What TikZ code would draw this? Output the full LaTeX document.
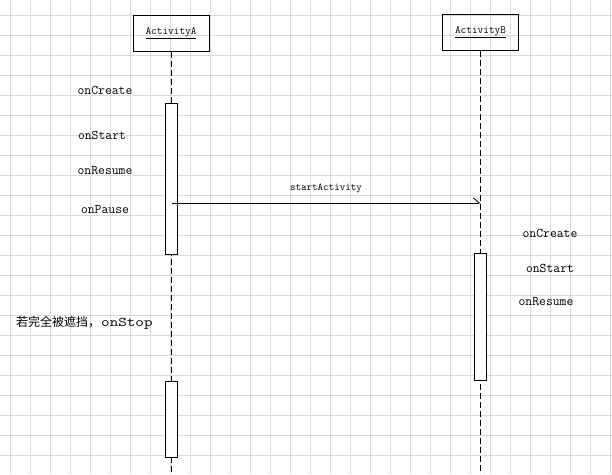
\documentclass[tikz,border=0pt]{standalone}
\usepackage{fontspec}
\usepackage{graphicx}
\newfontfamily\cjk{Noto Sans CJK SC}
\usetikzlibrary{arrows.meta}
\begin{document}
\begin{tikzpicture}[x=1pt,y=-1pt,
  gridline/.style={draw=black!15,line width=0.6pt},
  headbox/.style={draw,line width=1pt,minimum width=76pt,minimum height=36pt,inner sep=0pt,font=\ttfamily\fontsize{11}{12}\selectfont},
  lifeline/.style={dashed,dash pattern=on 6pt off 3pt,line width=0.8pt},
  actbox/.style={draw,fill=white,line width=0.9pt,minimum width=12pt,inner sep=0pt},
  lbl/.style={font=\ttfamily\fontsize{13.3}{14}\selectfont,inner sep=0pt},
  msg/.style={line width=0.8pt,-{Straight Barb[harpoon,length=6pt,width=10pt]}}]
\useasboundingbox (0,0) rectangle (612,474);
\fill[white] (0,0) rectangle (612,474);
% grid
\foreach \x in {10,30,...,610} \draw[gridline] (\x,0) -- (\x,474);
\foreach \y in {15,35,...,474} \draw[gridline] (0,\y) -- (612,\y);
% heads
\node[headbox] (A) at (171,33) {\underline{ActivityA}};
\node[headbox] (B) at (480.5,32.5) {\underline{ActivityB}};
% lifelines
\coordinate (Aend) at (171,474);
\coordinate (Bend) at (480.5,474);
\draw[lifeline] (A.south) -- (Aend);
\draw[lifeline] (B.south) -- (Bend);
% activations
\node[actbox,minimum height=151pt] (a1) at (171,178.5) {};
\node[actbox,minimum height=76pt] (a2) at (171,419) {};
\node[actbox,minimum height=127pt] (b1) at (480.5,316.5) {};
% message
\coordinate (m0) at (172,203);
\coordinate (m1) at (480.5,203);
\draw[msg] (m0) -- (m1);
\node[font=\ttfamily\fontsize{10.5}{11}\selectfont] (ml) at (326,188) {startActivity};
% labels
\node[lbl] (l1) at (105,90) {onCreate};
\node[lbl] (l2) at (102,135) {onStart};
\node[lbl] (l3) at (105,171) {onResume};
\node[lbl] (l4) at (105,209) {onPause};
\node[lbl] (r1) at (550,233) {onCreate};
\node[lbl] (r2) at (550,268) {onStart};
\node[lbl] (r3) at (546,302) {onResume};
\node[lbl,anchor=west] (s1) at (16,323) {{\cjk\fontsize{12}{12}\selectfont 若完全被遮挡，}\hspace{1pt}\scalebox{1.25}[1]{onStop}};
\end{tikzpicture}
\end{document}
